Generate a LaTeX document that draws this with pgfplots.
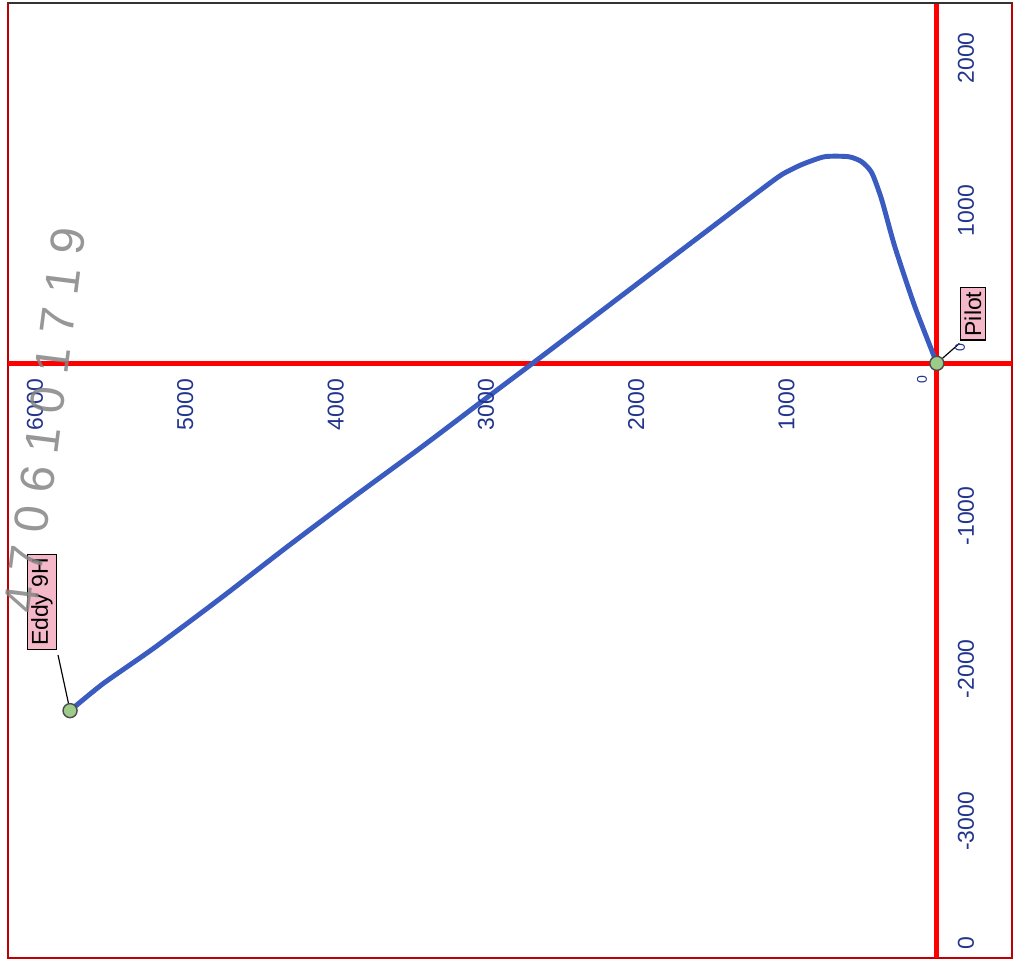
\documentclass[border=0pt]{standalone}
\usepackage{pgfplots}
\pgfplotsset{compat=1.18}
\usepackage{fontspec}
\setmainfont{Liberation Sans}
\definecolor{trackblue}{HTML}{3A5BC0}
\definecolor{ticknavy}{HTML}{22358C}
\definecolor{boxpink}{HTML}{F5B8C8}
\definecolor{dotgreen}{HTML}{9CCB8A}
\definecolor{stampgray}{HTML}{858585}
\begin{document}
\begin{tikzpicture}
\begin{axis}[
  scale only axis,
  width=15.06cm, height=14.325cm,
  x dir=reverse,
  xmin=-500, xmax=6180,
  ymin=-3895, ymax=2360,
  axis line style={draw=red!75!black, line width=0.6pt},
  xtick=\empty, ytick=\empty,
  extra x ticks={0}, extra y ticks={0},
  extra x tick labels={}, extra y tick labels={},
  extra tick style={grid=major, major tick length=0pt,
    major grid style={draw=red, line width=2.1pt}},
  clip=false,
]
% well path, Pilot -> Eddy 9H
\addplot[trackblue, line width=2.1pt, smooth, tension=0.4] coordinates {
  (0,0) (147,373) (280,765) (367,1072) (433,1248) (500,1320) (587,1353)
  (747,1353) (900,1301) (1033,1235) (1187,1124) (1387,974) (1700,740)
  (2033,491) (2367,241) (2680,7) (2987,-220) (3433,-552) (3880,-875)
  (4320,-1200) (4767,-1540) (5213,-1868) (5547,-2098) (5767,-2275)
};
% leader lines
\addplot[black, line width=0.5pt] coordinates {(5767,-2275) (5847,-1911)};
\addplot[black, line width=0.5pt] coordinates {(0,0) (-150,130)};
% end points
\addplot[only marks, mark=*, mark size=3pt,
  mark options={fill=dotgreen, draw=black!70, line width=0.6pt}]
  coordinates {(0,0) (5767,-2275)};

% depth labels along the 0 line
\pgfplotsinvokeforeach{1000,2000,3000,4000,5000,6000}{
  \node[rotate=90, anchor=east, inner sep=0pt, text=ticknavy,
    font=\fontsize{9.8}{11}\selectfont] at (axis cs:#1,-100) {#1};
}
\node[rotate=90, inner sep=0pt, text=ticknavy, font=\fontsize{6}{7}\selectfont]
  at (axis cs:99,-109) {0};
% offset labels on the right
\pgfplotsinvokeforeach{2000,1000,-1000,-2000,-3000}{
  \node[rotate=90, inner sep=0pt, text=ticknavy,
    font=\fontsize{9.8}{11}\selectfont] at (axis cs:-194,#1) {#1};
}
\node[rotate=90, inner sep=0pt, text=ticknavy, font=\fontsize{6}{7}\selectfont]
  at (axis cs:-154,100) {0};
\node[rotate=90, inner sep=0pt, text=ticknavy, font=\fontsize{9.8}{11}\selectfont]
  at (axis cs:-194,-3797) {0};

% well name boxes
\node[rotate=90, draw=black, fill=boxpink, line width=0.5pt, inner sep=1.6pt,
  font=\fontsize{9.8}{11}\selectfont] at (axis cs:5954,-1563) {Eddy 9H};
\node[rotate=90, draw=black, fill=boxpink, line width=0.5pt, inner sep=1.6pt,
  font=\fontsize{9.8}{11}\selectfont] at (axis cs:-240,323) {Pilot};

% scanned stamp, on top of everything
\node[rotate=82.7, text=stampgray, opacity=0.85,
  font=\fontsize{20.5}{22}\selectfont, inner sep=0pt]
  at (axis cs:5934,-371) {4 7 0 6 1 0 1 7 1 9};
\end{axis}
\draw[black!80, line width=0.6pt] (current axis.north west) -- (current axis.north east);
\pgfresetboundingbox
\path[use as bounding box] ([shift={(-0.12cm,-0.195cm)}]current axis.south west)
  rectangle ([shift={(0.09cm,0.045cm)}]current axis.north east);
\end{tikzpicture}
\end{document}
